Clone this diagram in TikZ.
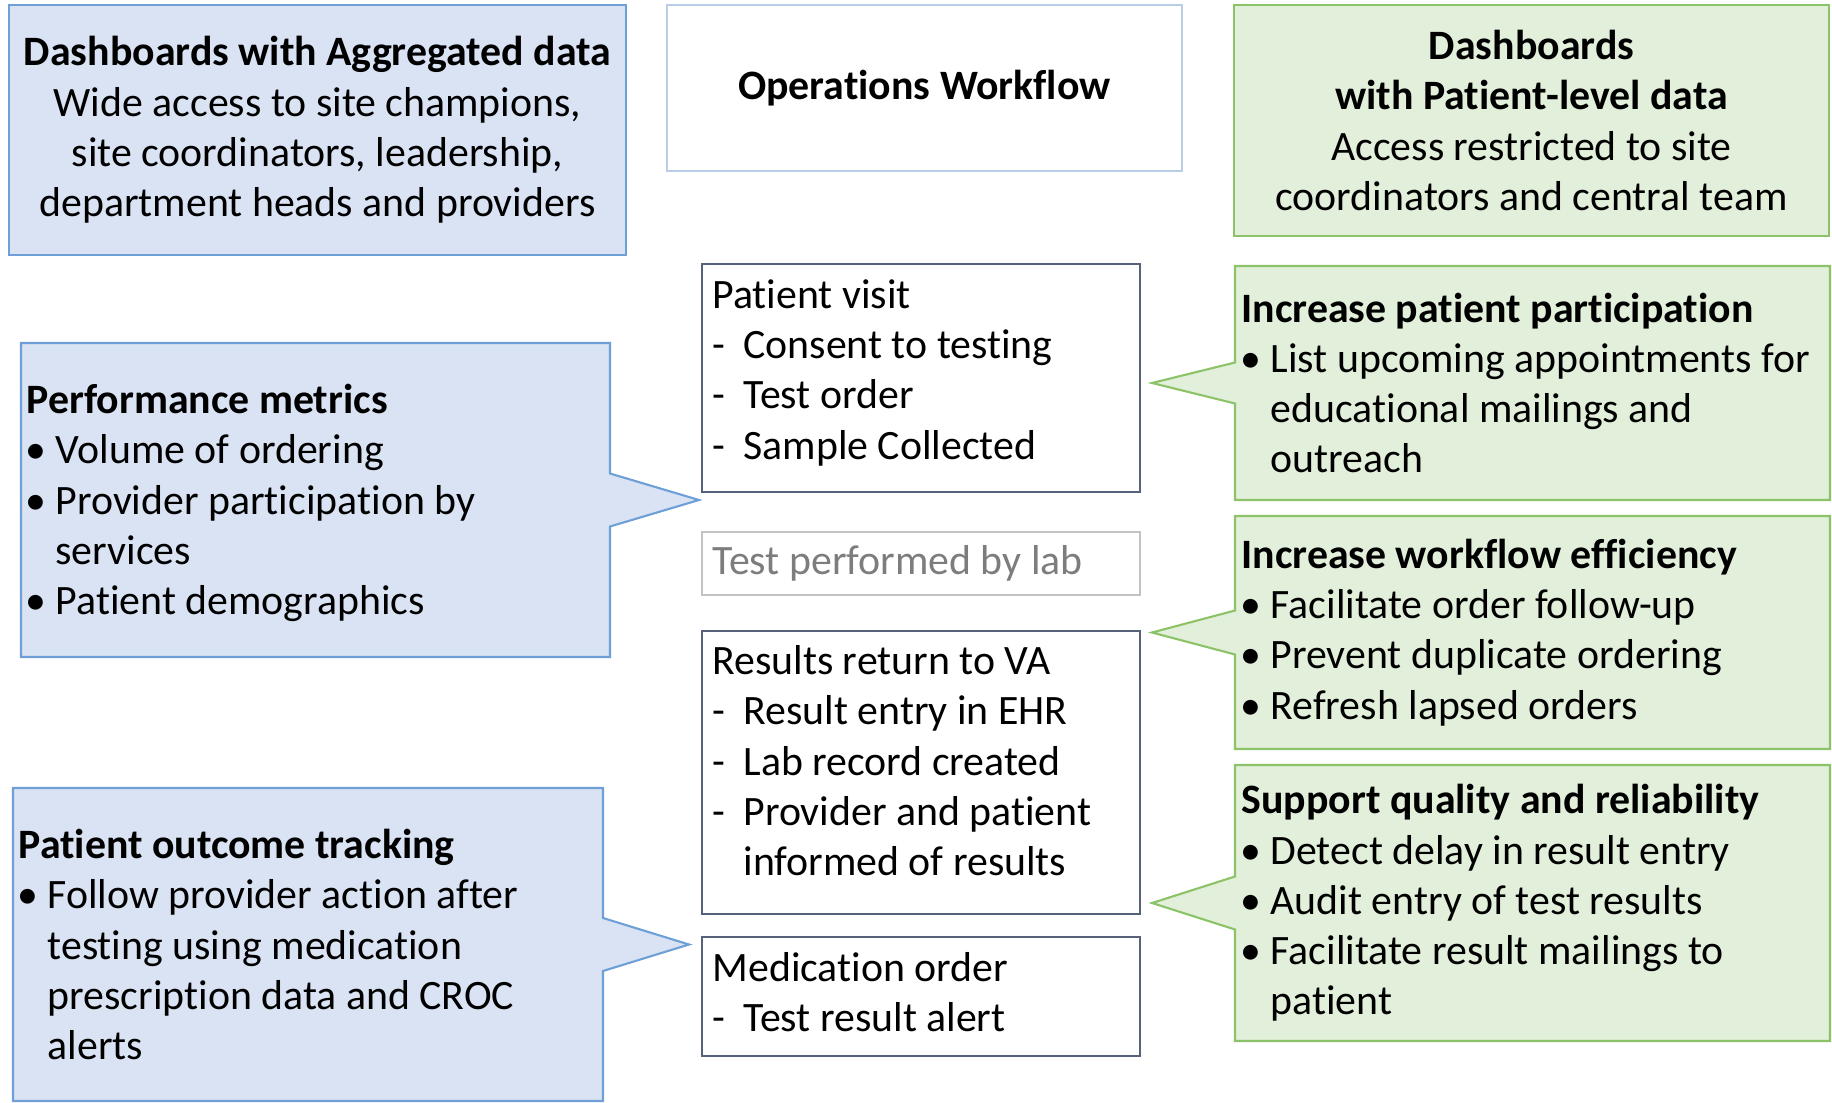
\documentclass[tikz,border=0pt]{standalone}
\usepackage{fontspec}
\setmainfont{Carlito}[Ligatures=NoCommon]
\usepackage{tikz}
\usetikzlibrary{positioning,shapes.callouts}
\definecolor{aggfill}{RGB}{218,227,243}
\definecolor{aggline}{RGB}{110,160,215}
\definecolor{patfill}{RGB}{226,239,218}
\definecolor{patline}{RGB}{140,195,105}
\definecolor{flowline}{RGB}{85,98,122}
\definecolor{opsline}{RGB}{185,204,232}
\definecolor{labline}{RGB}{195,195,195}
\definecolor{labtext}{RGB}{125,125,125}
\newcommand{\dashit}{\makebox[0.31cm][l]{-}}
\newcommand{\bulit}{\makebox[0.29cm][l]{\hspace{-0.01cm}•}}
\newcommand{\hangtx}{\hspace*{0.29cm}}

\begin{document}
\begin{tikzpicture}[x=1cm,y=-1cm,
  every node/.style={font=\fontsize{11.9}{14.3}\selectfont,inner sep=0pt},
  aggbox/.style={rectangle,draw=aggline,fill=aggfill,line width=0.6pt,align=center},
  patbox/.style={rectangle,draw=patline,fill=patfill,line width=0.6pt,align=center},
  opsbox/.style={rectangle,draw=opsline,line width=0.5pt},
  flow/.style={rectangle,draw=flowline,line width=0.7pt,minimum width=4.38cm},
  lcall/.style={rectangle callout,draw=aggline,fill=aggfill,line width=0.6pt},
  rcall/.style={rectangle callout,draw=patline,fill=patfill,line width=0.6pt,minimum width=5.95cm},
  txt/.style={align=left,anchor=west},
  ftxt/.style={align=left,anchor=north west}]
\useasboundingbox (0,0) rectangle (18.32,11.03);

\node[aggbox,minimum width=6.17cm,minimum height=2.50cm] (agg) at (3.175,1.30) {\textbf{Dashboards with Aggregated data}\\Wide access to site champions,\\site coordinators, leadership,\\department heads and providers};
\node[opsbox,minimum width=5.15cm,minimum height=1.66cm,font=\fontsize{11.9}{14.3}\selectfont\bfseries] (ops) at (9.245,0.88) {Operations Workflow};
\node[patbox,minimum width=5.95cm,minimum height=2.31cm] (pat) at (15.315,1.205) {\textbf{Dashboards}\\\textbf{with Patient-level data}\\Access restricted to site\\coordinators and central team};

\node[flow,minimum height=2.28cm] (visit) at (9.21,3.78) {};
\node[flow,draw=labline,minimum height=0.63cm] (lab) at (9.21,5.635) {};
\node[flow,minimum height=2.83cm] (result) at (9.21,7.725) {};
\node[flow,minimum height=1.19cm] (med) at (9.21,9.965) {};
\node[ftxt] (visittx) at ([xshift=0.11cm,yshift=-0.16cm]visit.north west) {Patient visit\\\dashit Consent to testing\\\dashit Test order\\\dashit Sample Collected};
\node[txt,text=labtext] (labtx) at ([xshift=0.11cm]lab.west) {Test performed by lab};
\node[ftxt] (resulttx) at ([xshift=0.11cm,yshift=-0.15cm]result.north west) {Results return to VA\\\dashit Result entry in EHR\\\dashit Lab record created\\\dashit Provider and patient\\\hspace*{0.31cm}informed of results};
\node[ftxt] (medtx) at ([xshift=0.11cm,yshift=-0.16cm]med.north west) {Medication order\\\dashit Test result alert};

\coordinate (pmtip) at (6.99,5.00);
\coordinate (outtip) at (6.89,9.445);
\coordinate (parttip) at (11.52,3.83);
\coordinate (efftip) at (11.52,6.325);
\coordinate (qualtip) at (11.52,9.03);

\node[lcall,minimum width=5.89cm,minimum height=3.14cm,callout absolute pointer={(pmtip)},callout pointer width=0.53cm] (pm) at (3.155,5.00) {};
\node[txt] (pmtx) at ([xshift=0.06cm,yshift=-0.03cm]pm.west) {\textbf{Performance metrics}\\\bulit Volume of ordering\\\bulit Provider participation by\\\hangtx services\\\bulit Patient demographics};
\node[lcall,minimum width=5.90cm,minimum height=3.13cm,callout absolute pointer={(outtip)},callout pointer width=0.53cm] (out) at (3.08,9.445) {};
\node[txt] (outtx) at ([xshift=0.06cm]out.west) {\textbf{Patient outcome tracking}\\\bulit Follow provider action after\\\hangtx testing using medication\\\hangtx prescription data and CROC\\\hangtx alerts};

\node[rcall,minimum height=2.34cm,callout absolute pointer={(parttip)},callout pointer width=0.41cm] (part) at (15.325,3.83) {};
\node[txt] (parttx) at ([xshift=0.07cm]part.west) {\textbf{Increase patient participation}\\\bulit List upcoming appointments for\\\hangtx educational mailings and\\\hangtx outreach};
\node[rcall,minimum height=2.33cm,callout absolute pointer={(efftip)},callout pointer width=0.44cm] (eff) at (15.325,6.325) {};
\node[txt] (efftx) at ([xshift=0.07cm]eff.west) {\textbf{Increase workflow efficiency}\\\bulit Facilitate order follow-up\\\bulit Prevent duplicate ordering\\\bulit Refresh lapsed orders};
\node[rcall,minimum height=2.76cm,callout absolute pointer={(qualtip)},callout pointer width=0.53cm] (qual) at (15.325,9.03) {};
\node[txt] (qualtx) at ([xshift=0.07cm]qual.west) {\textbf{Support quality and reliability}\\\bulit Detect delay in result entry\\\bulit Audit entry of test results\\\bulit Facilitate result mailings to\\\hangtx patient};
\end{tikzpicture}
\end{document}
